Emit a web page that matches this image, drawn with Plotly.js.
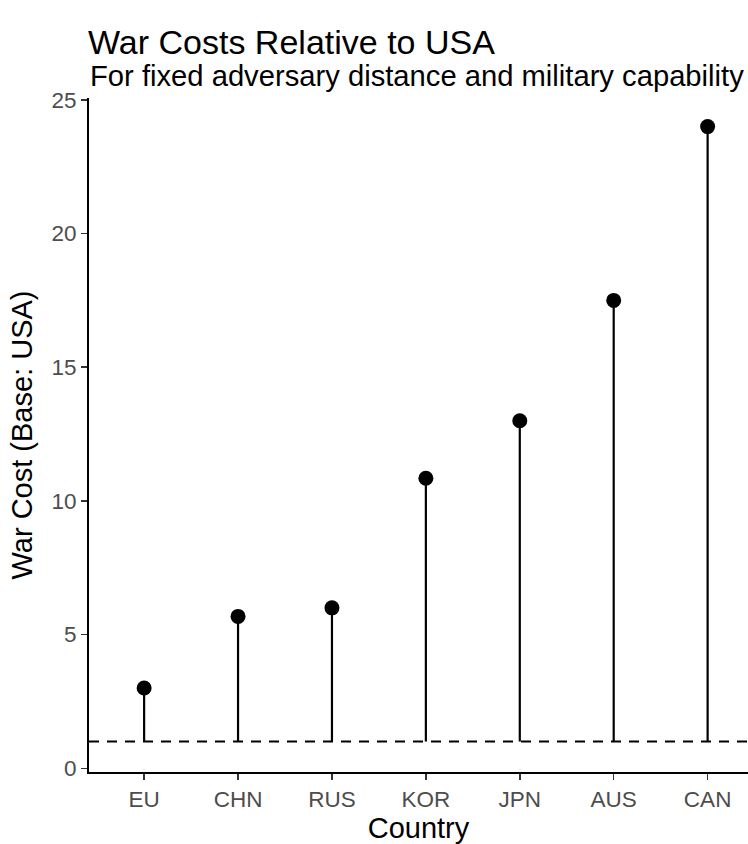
<!DOCTYPE html>
<html>
<head>
<meta charset="utf-8">
<script src="https://cdn.plot.ly/plotly-3.0.1.min.js"></script>
<style>html,body{margin:0;padding:0;background:#fff;}#chart{width:748px;height:844px;}</style>
</head>
<body>
<div id="chart"></div>
<script>
const countries = ["EU", "CHN", "RUS", "KOR", "JPN", "AUS", "CAN"];
const warCost = [3.0, 5.68, 6.0, 10.85, 13.0, 17.5, 24.0];
const baseline = 1;
const yTicks = [0, 5, 10, 15, 20, 25];

const stemX = [], stemY = [];
countries.forEach((c, i) => {
  stemX.push(c, c, null);
  stemY.push(baseline, warCost[i], null);
});

const FONT = "Liberation Sans, Arial, sans-serif";

const traces = [
  {
    x: stemX, y: stemY, type: "scatter", mode: "lines",
    line: {color: "#000", width: 2.2}, hoverinfo: "skip", showlegend: false
  },
  {
    x: countries, y: warCost, type: "scatter", mode: "markers",
    marker: {color: "#000", size: 15}, showlegend: false
  }
];

const layout = {
  width: 748, height: 844,
  margin: {l: 89, r: 0, t: 98, b: 72},
  paper_bgcolor: "#fff", plot_bgcolor: "#fff",
  font: {family: FONT, color: "#000"},
  showlegend: false,
  title: {
    text: "War Costs Relative to USA",
    font: {family: FONT, size: 34, color: "#000"},
    x: 88 / 748, xanchor: "left", xref: "container",
    y: 1 - 42 / 844, yanchor: "middle", yref: "container"
  },
  annotations: [{
    text: "For fixed adversary distance and military capability",
    xref: "paper", yref: "paper", x: 0, y: 1, xanchor: "left", yanchor: "middle",
    xshift: -1, yshift: 98 - 76, showarrow: false,
    font: {family: FONT, size: 29.2, color: "#000"}
  }],
  xaxis: {
    type: "category",
    categoryorder: "array", categoryarray: countries,
    range: [-0.587, 6.43],
    showgrid: false, zeroline: false,
    showline: true, linecolor: "#000", linewidth: 2,
    ticks: "outside", ticklen: 6, tickwidth: 1.5, tickcolor: "#333",
    tickfont: {family: FONT, size: 22.5, color: "#4d4d4d"},
    title: {text: "Country", font: {family: FONT, size: 29, color: "#000"}, standoff: 3}
  },
  yaxis: {
    range: [-0.14, 25.07],
    tickvals: yTicks, ticktext: yTicks.map(String),
    showgrid: false, zeroline: false,
    showline: true, linecolor: "#000", linewidth: 2,
    ticks: "outside", ticklen: 6, tickwidth: 1.5, tickcolor: "#333",
    tickfont: {family: FONT, size: 22.5, color: "#4d4d4d"},
    title: {text: "War Cost (Base: USA)", font: {family: FONT, size: 29, color: "#000"}, standoff: 10}
  },
  shapes: [{
    type: "line", xref: "paper", yref: "y", x0: 0, x1: 1, y0: baseline, y1: baseline,
    line: {color: "#000", width: 2, dash: "10px,8px"}, layer: "below"
  }]
};

Plotly.newPlot("chart", traces, layout, {displayModeBar: false, staticPlot: true});
</script>
</body>
</html>
